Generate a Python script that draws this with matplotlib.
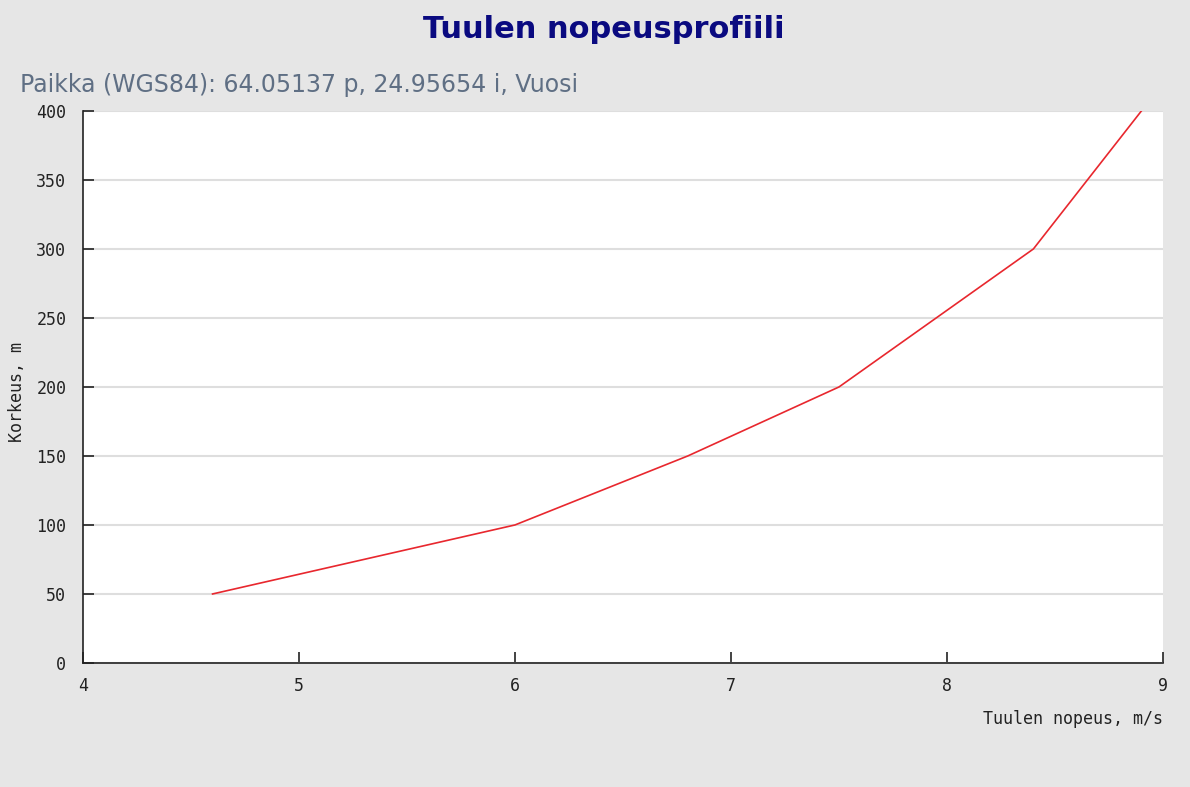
import matplotlib.pyplot as plt

# wind speed (m/s) at each height (m)
speed = [4.6, 6.0, 6.8, 7.5, 8.4, 8.9]
height = [50, 100, 150, 200, 300, 400]

x_ticks = [4, 5, 6, 7, 8, 9]
y_ticks = [0, 50, 100, 150, 200, 250, 300, 350, 400]

bg = "#e6e6e6"
mono = "DejaVu Sans Mono"

fig = plt.figure(figsize=(11.9, 7.87), dpi=100, facecolor=bg)
ax = fig.add_axes([0.0697, 0.1576, 0.9076, 0.7014])
ax.set_facecolor("white")

ax.plot(speed, height, color="#e8272e", linewidth=1.2)

ax.set_xlim(4, 9)
ax.set_ylim(0, 400)
ax.set_xticks(x_ticks)
ax.set_yticks(y_ticks)
ax.yaxis.grid(True, color="#dedede", linewidth=1.5)
ax.set_axisbelow(True)

for s in ["top", "right"]:
    ax.spines[s].set_visible(False)
for s in ["left", "bottom"]:
    ax.spines[s].set_color("#222222")
    ax.spines[s].set_linewidth(1.2)

ax.tick_params(direction="in", length=8, width=1.2, color="#222222",
               labelsize=12, labelcolor="#222222")
ax.tick_params(axis="x", pad=10)
ax.tick_params(axis="y", pad=12)
for lbl in ax.get_xticklabels() + ax.get_yticklabels():
    lbl.set_family(mono)

ax.set_xlabel("Tuulen nopeus, m/s", family=mono, fontsize=12, color="#222222")
ax.xaxis.set_label_coords(1.0, -0.085)
ax.xaxis.label.set_horizontalalignment("right")
ax.set_ylabel("Korkeus, m", family=mono, fontsize=12, color="#222222")
ax.yaxis.set_label_coords(-0.053, 0.49)

fig.text(0.507, 0.962, "Tuulen nopeusprofiili", ha="center", va="center",
         fontsize=22, fontweight="bold", color="#0a0a80")
fig.text(0.017, 0.892, "Paikka (WGS84): 64.05137 p, 24.95654 i, Vuosi",
         ha="left", va="center", fontsize=17, color="#5f6f84")

fig.savefig("out.png", dpi=100, facecolor=bg)
